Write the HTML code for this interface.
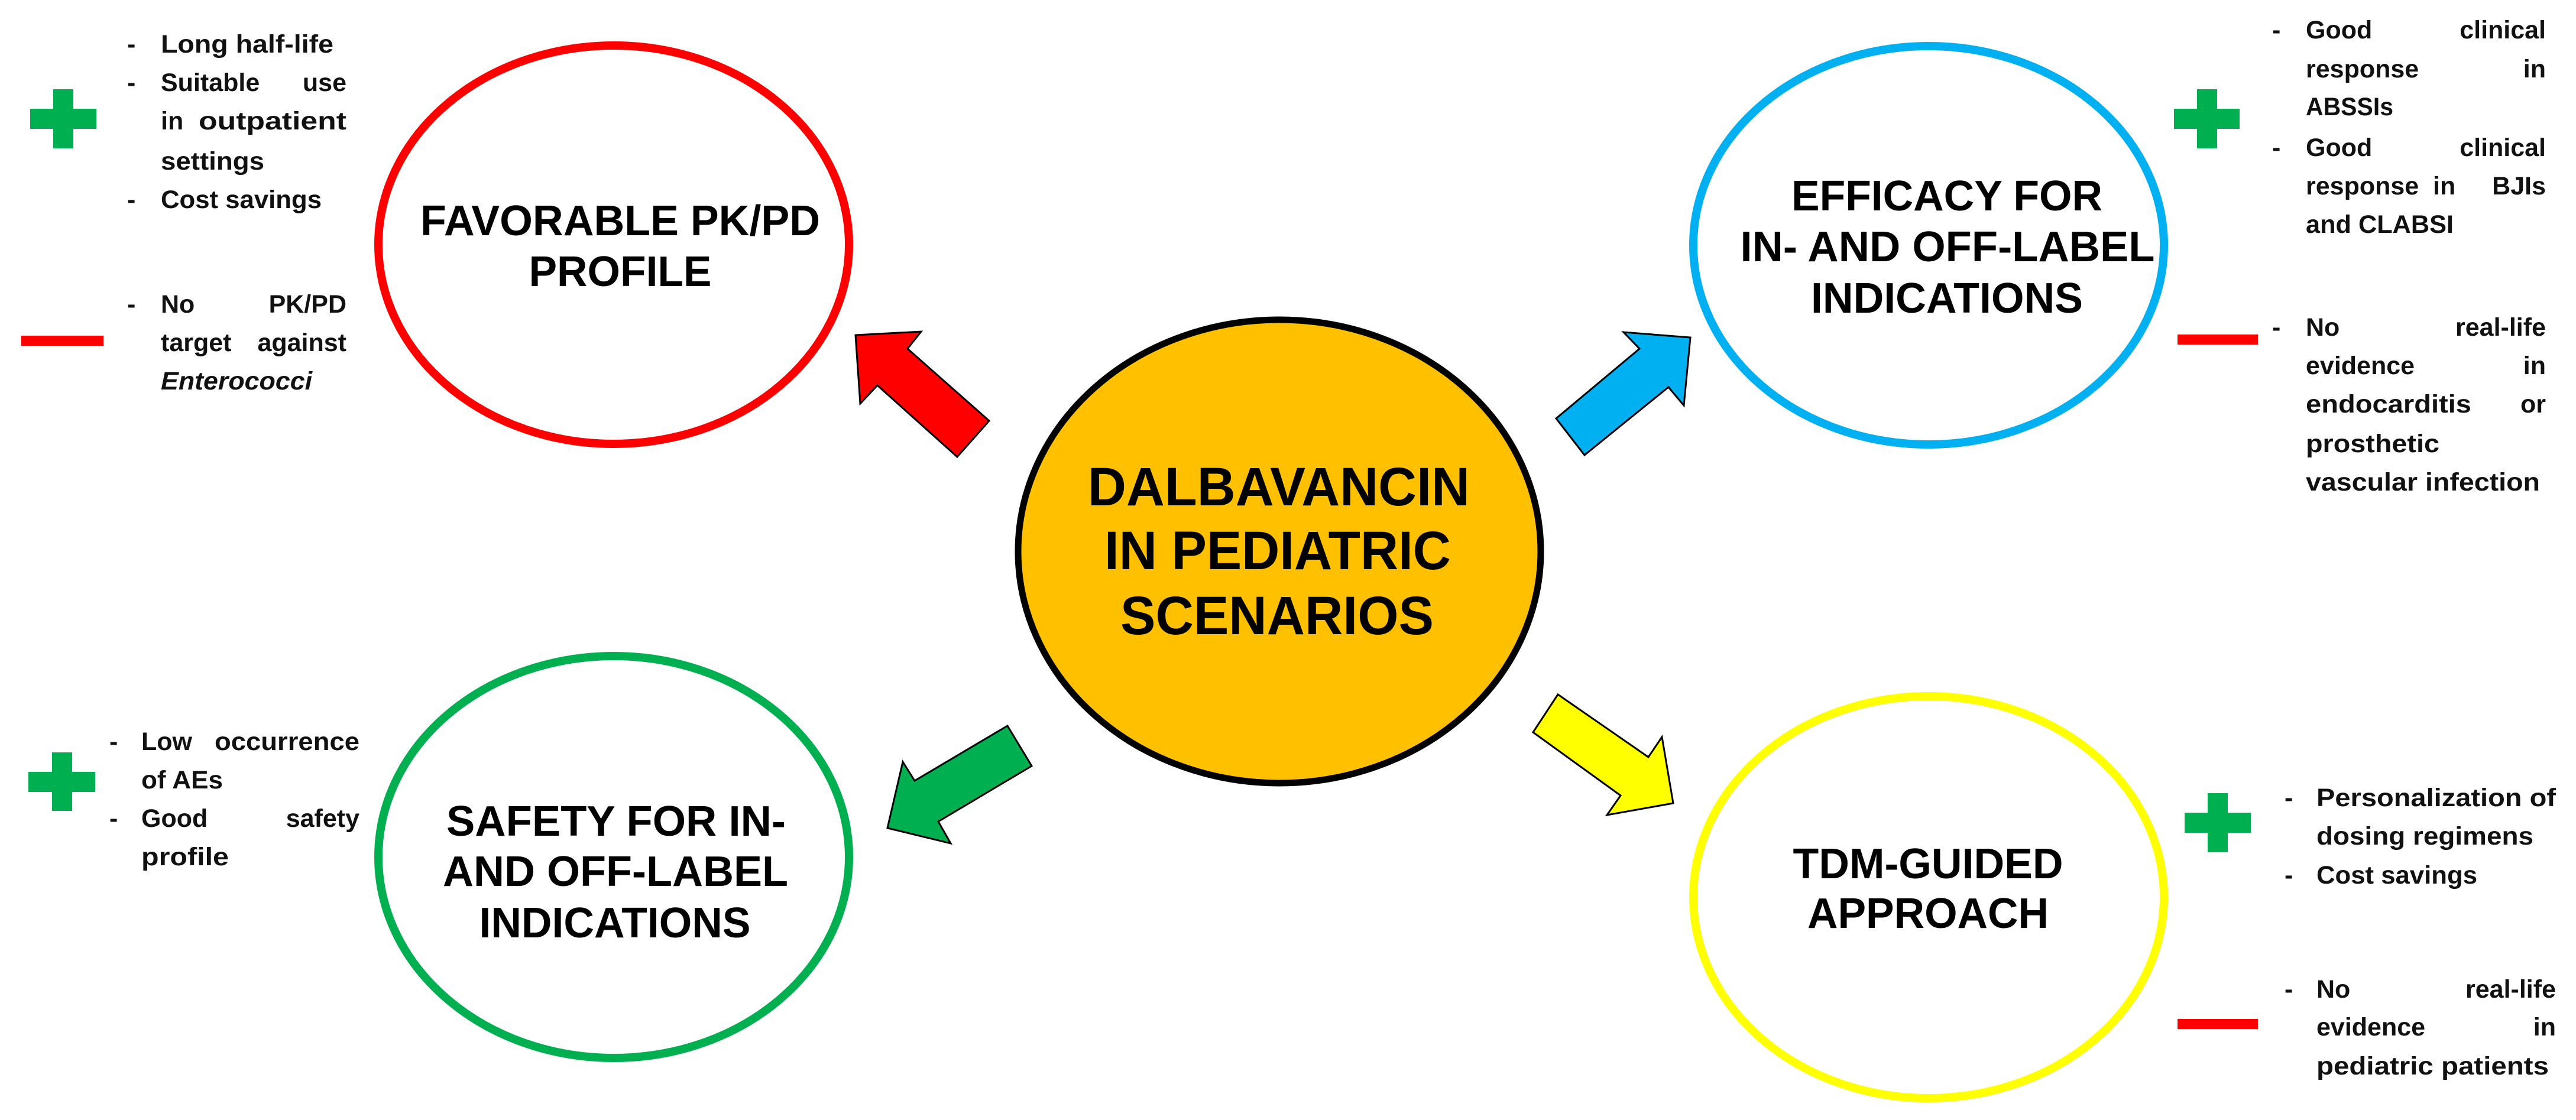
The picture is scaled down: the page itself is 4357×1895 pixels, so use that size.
<!DOCTYPE html>
<html><head><meta charset="utf-8"><style>
html,body{margin:0;padding:0;background:#fff}
svg{display:block}
.b{font-family:"Liberation Sans",Arial,sans-serif;font-weight:bold;font-size:43px;fill:#111}
.t{font-family:"Liberation Sans",Arial,sans-serif;font-weight:bold;font-size:72px;fill:#000;text-anchor:middle}
.c{font-family:"Liberation Sans",Arial,sans-serif;font-weight:bold;font-size:92px;fill:#000;text-anchor:middle}
.e{text-anchor:end}
</style></head><body>
<svg width="4357" height="1895" viewBox="0 0 4357 1895" xmlns="http://www.w3.org/2000/svg">
<ellipse cx="1038" cy="414" rx="398" ry="337" fill="#fff" stroke="#FF0000" stroke-width="14"/>
<ellipse cx="3262" cy="415" rx="398" ry="337" fill="#fff" stroke="#00B0F0" stroke-width="14"/>
<ellipse cx="1038" cy="1450" rx="398" ry="340" fill="#fff" stroke="#00B050" stroke-width="14"/>
<ellipse cx="3262" cy="1518" rx="398" ry="340" fill="#fff" stroke="#FFFF00" stroke-width="14"/>
<ellipse cx="2164" cy="933" rx="442" ry="392" fill="#FFC000" stroke="#000" stroke-width="11"/>
<polygon points="1447,567 1558,561 1535,590 1673,712 1619,773 1484,652 1455,683" fill="#FF0000" stroke="#000" stroke-width="3"/>
<polygon points="2859,571 2848,686 2822,655 2680,770 2632,708 2773,590 2746,562" fill="#00B0F0" stroke="#000" stroke-width="3"/>
<polygon points="1501,1401 1527,1289 1547,1321 1704,1228 1745,1296 1587,1390 1608,1427" fill="#00B050" stroke="#000" stroke-width="3"/>
<polygon points="2830,1359 2718,1379 2741,1346 2593,1239 2635,1175 2788,1281 2811,1247" fill="#FFFF00" stroke="#000" stroke-width="3"/>
<text class="t" x="1049" y="398" textLength="676" lengthAdjust="spacingAndGlyphs">FAVORABLE PK/PD</text>
<text class="t" x="1049" y="484" textLength="309" lengthAdjust="spacingAndGlyphs">PROFILE</text>
<text class="t" x="3293" y="356" textLength="526" lengthAdjust="spacingAndGlyphs">EFFICACY FOR</text>
<text class="t" x="3294" y="442" textLength="701" lengthAdjust="spacingAndGlyphs">IN- AND OFF-LABEL</text>
<text class="t" x="3293" y="529" textLength="460" lengthAdjust="spacingAndGlyphs">INDICATIONS</text>
<text class="t" x="1042" y="1414" textLength="574" lengthAdjust="spacingAndGlyphs">SAFETY FOR IN-</text>
<text class="t" x="1041" y="1499" textLength="584" lengthAdjust="spacingAndGlyphs">AND OFF-LABEL</text>
<text class="t" x="1040" y="1586" textLength="459" lengthAdjust="spacingAndGlyphs">INDICATIONS</text>
<text class="t" x="3261" y="1486" textLength="457" lengthAdjust="spacingAndGlyphs">TDM-GUIDED</text>
<text class="t" x="3261" y="1570" textLength="408" lengthAdjust="spacingAndGlyphs">APPROACH</text>
<text class="c" x="2163" y="855" textLength="646" lengthAdjust="spacingAndGlyphs">DALBAVANCIN</text>
<text class="c" x="2161" y="963" textLength="586" lengthAdjust="spacingAndGlyphs">IN PEDIATRIC</text>
<text class="c" x="2160" y="1073" textLength="530" lengthAdjust="spacingAndGlyphs">SCENARIOS</text>
<g fill="#00B050">
<rect x="51" y="184" width="112" height="34"/><rect x="90" y="151" width="34" height="100"/>
<rect x="48" y="1306" width="113" height="34"/><rect x="88" y="1273" width="34" height="99"/>
<rect x="3677" y="184" width="111" height="34"/><rect x="3716" y="151" width="34" height="100"/>
<rect x="3695" y="1375" width="112" height="34"/><rect x="3734" y="1342" width="34" height="100"/>
</g>
<g fill="#FF0000">
<rect x="36" y="568" width="139" height="17"/>
<rect x="3683" y="566" width="136" height="17"/>
<rect x="3683" y="1724" width="136" height="17"/>
</g>
<g class="b">
<text x="215" y="89">-</text><text x="272" y="89" textLength="292" lengthAdjust="spacingAndGlyphs">Long half-life</text>
<text x="215" y="154">-</text><text x="272" y="154">Suitable</text><text class="e" x="586" y="154">use</text>
<text x="272" y="219">in</text><text class="e" x="586" y="219" textLength="250" lengthAdjust="spacingAndGlyphs">outpatient</text>
<text x="272" y="287" textLength="175" lengthAdjust="spacingAndGlyphs">settings</text>
<text x="215" y="352">-</text><text x="272" y="352" textLength="272" lengthAdjust="spacingAndGlyphs">Cost savings</text>
<text x="215" y="529">-</text><text x="272" y="529">No</text><text class="e" x="586" y="529">PK/PD</text>
<text x="272" y="594">target</text><text class="e" x="586" y="594">against</text>
<text x="272" y="659" font-style="italic" textLength="256" lengthAdjust="spacingAndGlyphs">Enterococci</text>
</g>
<g class="b">
<text x="185" y="1269">-</text><text x="239" y="1269">Low</text><text class="e" x="608" y="1269" textLength="245" lengthAdjust="spacingAndGlyphs">occurrence</text>
<text x="239" y="1334" textLength="138" lengthAdjust="spacingAndGlyphs">of AEs</text>
<text x="185" y="1399">-</text><text x="239" y="1399">Good</text><text class="e" x="608" y="1399">safety</text>
<text x="239" y="1464" textLength="148" lengthAdjust="spacingAndGlyphs">profile</text>
</g>
<g class="b">
<text x="3843" y="65">-</text><text x="3900" y="65">Good</text><text class="e" x="4306" y="65">clinical</text>
<text x="3900" y="131">response</text><text class="e" x="4306" y="131">in</text>
<text x="3900" y="195" textLength="148" lengthAdjust="spacingAndGlyphs">ABSSIs</text>
<text x="3843" y="264">-</text><text x="3900" y="264">Good</text><text class="e" x="4306" y="264">clinical</text>
<text x="3900" y="329">response</text><text x="4115" y="329">in</text><text class="e" x="4306" y="329">BJIs</text>
<text x="3900" y="394" textLength="250" lengthAdjust="spacingAndGlyphs">and CLABSI</text>
<text x="3843" y="568">-</text><text x="3900" y="568">No</text><text class="e" x="4306" y="568">real-life</text>
<text x="3900" y="633">evidence</text><text class="e" x="4306" y="633">in</text>
<text x="3900" y="698" textLength="280" lengthAdjust="spacingAndGlyphs">endocarditis</text><text class="e" x="4306" y="698">or</text>
<text x="3900" y="765" textLength="226" lengthAdjust="spacingAndGlyphs">prosthetic</text>
<text x="3900" y="830" textLength="396" lengthAdjust="spacingAndGlyphs">vascular infection</text>
</g>
<g class="b">
<text x="3864" y="1364">-</text><text x="3918" y="1364" textLength="405" lengthAdjust="spacingAndGlyphs">Personalization of</text>
<text x="3918" y="1429" textLength="367" lengthAdjust="spacingAndGlyphs">dosing regimens</text>
<text x="3864" y="1495">-</text><text x="3918" y="1495" textLength="272" lengthAdjust="spacingAndGlyphs">Cost savings</text>
<text x="3864" y="1688">-</text><text x="3918" y="1688">No</text><text class="e" x="4323" y="1688">real-life</text>
<text x="3918" y="1752">evidence</text><text class="e" x="4323" y="1752">in</text>
<text x="3918" y="1818" textLength="393" lengthAdjust="spacingAndGlyphs">pediatric patients</text>
</g>
</svg>
</body></html>
